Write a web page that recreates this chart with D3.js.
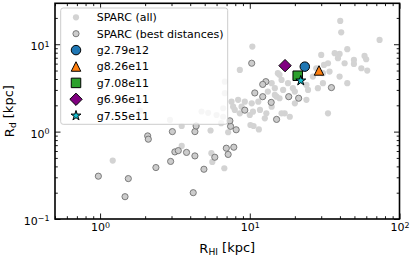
<!DOCTYPE html>
<html>
<head>
<meta charset="utf-8">
<script src="https://cdn.jsdelivr.net/npm/d3@7"></script>
<style>
  body { margin: 0; background: #fff; }
  svg { display: block; font-family: "DejaVu Sans", sans-serif; }
</style>
</head>
<body>
<svg id="chart" width="415" height="257"></svg>
<script>
// SPARC (all): R_HI [kpc], R_d [kpc]
var allRhi = [1.215, 3.51, 3.51, 5.47, 5.54, 5.62, 6.76, 6.44, 7.17, 10.1, 10.6, 11.5, 10.4, 8.58,
  15.4, 16.3, 14.7, 16.7, 19.4, 13.2, 15.8, 11.4, 10.3, 8.36, 7.55, 7.94, 10.5, 11.7, 12.9, 17.1,
  18.5, 12.6, 14.0, 20.0, 23.9, 24.5, 26.4, 28.5, 30.8, 30.8, 34.1, 31.3, 33.3, 30.0, 36.9, 39.8,
  44.8, 38.8, 43.0, 49.6, 49.6, 58.4, 59.9, 55.6, 60.9, 39.8, 44.8, 33.3, 40.2, 40.8, 73.6, 15.1,
  14.0, 15.8, 18.0, 20.0, 23.9, 16.3, 27.8, 7.74, 8.81, 10.0, 8.58, 9.26, 14.7,
  1.85, 2.93, 4.76, 5.27, 6.00, 6.64, 6.64, 6.81, 6.81];
var allRd = [0.466, 0.686, 1.16, 1.03, 0.566, 0.450, 0.381, 1.25, 0.984, 1.19, 1.16, 1.06, 9.39, 5.08,
  4.66, 3.90, 3.14, 3.00, 3.14, 2.87, 2.41, 2.20, 2.11, 2.31, 2.20, 1.77, 1.69, 1.77, 1.62, 1.62,
  1.48, 1.42, 1.93, 2.11, 2.31, 3.00, 4.26, 3.14, 3.58, 4.66, 4.86, 5.80, 6.06, 7.55, 7.89, 7.74,
  8.77, 6.92, 6.06, 6.61, 5.95, 7.35, 6.73, 5.31, 4.99, 4.26, 3.58, 1.62, 18.5, 13.7, 11.2, 2.51,
  3.58, 4.46, 3.58, 2.87, 3.42, 1.62, 5.31, 1.93, 1.93, 1.55, 1.62, 2.20, 2.63,
  1.74, 1.36, 1.70, 1.64, 1.55, 1.48, 1.85, 3.73, 2.75];

// SPARC (best distances)
var bestRhi = [0.974, 1.544, 1.468, 2.08, 2.10, 2.36, 3.04, 2.96, 3.16, 3.33, 3.78, 4.30, 4.30, 4.38,
  4.19, 4.94, 5.84, 6.97, 7.17, 7.82, 7.44, 8.11, 7.36, 15.1, 9.26, 10.3, 12.8, 12.2, 10.8, 12.2,
  13.9, 18.2, 21.2, 35.1];
var bestRd = [0.309, 0.290, 0.180, 0.893, 0.819, 0.388, 1.0, 0.456, 0.586, 0.606, 0.578, 0.527, 1.0, 1.16,
  0.200, 0.371, 0.509, 0.646, 0.548, 0.663, 1.15, 1.05, 1.33, 1.38, 1.76, 6.06, 3.73, 3.47, 2.77, 2.51,
  2.16, 2.51, 2.41, 3.19];

// simulated galaxies
var galNames = ["g2.79e12", "g8.26e11", "g7.08e11", "g6.96e11", "g7.55e11"];
var galRhi = [23.3, 29.0, 20.9, 17.2, 21.9];
var galRd = [5.54, 5.01, 4.36, 5.69, 3.83];
var galColors = ["#1f77b4", "#ff7f0e", "#2ca02c", "#800080", "#17becf"];
var galShapes = ["circle", "triangle", "square", "diamond", "star"];

var xTickMajor = [1, 10, 100];
var yTickMajor = [0.1, 1, 10];

var W = 415, H = 257;
var margin = {left: 55, right: 15.5, top: 3.3, bottom: 38};
var iw = W - margin.left - margin.right;
var ih = H - margin.top - margin.bottom;

var svg = d3.select("#chart");
var g = svg.append("g").attr("transform", "translate(" + margin.left + "," + margin.top + ")");

var x = d3.scaleLog().domain([0.5, 100]).range([0, iw]);
var y = d3.scaleLog().domain([0.1, 29.4]).range([ih, 0]);

// marker paths, size = marker width in px
function markerPath(shape, s) {
    var h = s / 2;
    if (shape === "circle") return d3.symbol(d3.symbolCircle, Math.PI * h * h)();
    if (shape === "triangle") return "M0," + (-h) + "L" + (-h) + "," + h + "L" + h + "," + h + "Z";
    if (shape === "square") return "M" + (-h) + "," + (-h) + "H" + h + "V" + h + "H" + (-h) + "Z";
    if (shape === "diamond") { var d = h * 1.3; return "M0," + (-d) + "L" + d + ",0L0," + d + "L" + (-d) + ",0Z"; }
    // star
    var pts = [];
    for (var i = 0; i < 10; i++) {
        var r = (i % 2 === 0) ? h * 1.1 : h * 1.1 * 0.382;
        var a = -Math.PI / 2 + i * Math.PI / 5;
        pts.push([r * Math.cos(a), r * Math.sin(a)]);
    }
    return "M" + pts.join("L") + "Z";
}

// points
g.selectAll(".all").data(allRhi).enter().append("circle")
    .attr("cx", function(d) { return x(d); })
    .attr("cy", function(d, i) { return y(allRd[i]); })
    .attr("r", 3.1)
    .attr("fill", "#d3d3d3");

g.selectAll(".best").data(bestRhi).enter().append("circle")
    .attr("cx", function(d) { return x(d); })
    .attr("cy", function(d, i) { return y(bestRd[i]); })
    .attr("r", 3.1)
    .attr("fill", "#cccccc")
    .attr("stroke", "#707070")
    .attr("stroke-width", 0.9);

g.selectAll(".gal").data(galNames).enter().append("path")
    .attr("transform", function(d, i) { return "translate(" + x(galRhi[i]) + "," + y(galRd[i]) + ")"; })
    .attr("d", function(d, i) { return markerPath(galShapes[i], 9.5); })
    .attr("fill", function(d, i) { return galColors[i]; })
    .attr("stroke", "#000")
    .attr("stroke-width", 1);

// axes with inward ticks on all four sides
function minors(scale) {
    return scale.ticks().filter(function(v) {
        var l = Math.log10(v);
        return Math.abs(l - Math.round(l)) > 1e-6;
    });
}
function powLabel(sel) {
    sel.selectAll("text").each(function(d) {
        var t = d3.select(this);
        var e = Math.round(Math.log10(d));
        t.text(null);
        t.append("tspan").text("10");
        t.append("tspan").attr("dy", "-0.45em").attr("font-size", "0.72em")
            .text(e < 0 ? "\u2212" + (-e) : e);
    });
}
function styleAxis(sel) {
    sel.select(".domain").remove();
    sel.selectAll("line").attr("stroke", "#000").attr("stroke-width", 0.9);
    sel.selectAll("text").attr("fill", "#000").attr("font-size", 11).attr("font-family", "DejaVu Sans");
}

var axes = [
    {gen: d3.axisBottom, sc: x, tr: "translate(0," + ih + ")", lab: true},
    {gen: d3.axisTop, sc: x, tr: "translate(0,0)", lab: false},
    {gen: d3.axisLeft, sc: y, tr: "translate(0,0)", lab: true},
    {gen: d3.axisRight, sc: y, tr: "translate(" + iw + ",0)", lab: false}
];
axes.forEach(function(a) {
    var maj = a.sc === x ? xTickMajor : yTickMajor;
    g.append("g").attr("transform", a.tr)
        .call(a.gen(a.sc).tickValues(minors(a.sc)).tickSize(-2.8).tickFormat(""))
        .call(styleAxis);
    var ga = g.append("g").attr("transform", a.tr)
        .call(a.gen(a.sc).tickValues(maj).tickSize(-5.5).tickPadding(a.sc === x ? 4.5 : 5.5))
        .call(styleAxis);
    if (a.lab) {
        ga.call(powLabel);
        if (a.sc === y) ga.selectAll("text").attr("dy", "0.5em");
    } else {
        ga.selectAll("text").remove();
    }
});

g.append("rect").attr("width", iw).attr("height", ih)
    .attr("fill", "none").attr("stroke", "#000").attr("stroke-width", 1.6);

// axis labels
var xl = svg.append("text").attr("x", margin.left + iw / 2).attr("y", 252.5)
    .attr("text-anchor", "middle").attr("font-size", 13);
xl.append("tspan").text("R");
xl.append("tspan").attr("font-size", "0.7em").attr("dy", "0.25em").text("HI");
xl.append("tspan").attr("dy", "-0.18em").text(" [kpc]");

var yl = svg.append("text").attr("transform", "translate(13.5," + (margin.top + ih / 2) + ") rotate(-90)")
    .attr("text-anchor", "middle").attr("font-size", 13);
yl.append("tspan").text("R");
yl.append("tspan").attr("font-size", "0.7em").attr("dy", "0.25em").text("d");
yl.append("tspan").attr("dy", "-0.18em").text(" [kpc]");

// legend
var leg = svg.append("g");
leg.append("rect").attr("x", 60.7).attr("y", 8).attr("width", 167).attr("height", 116.3)
    .attr("rx", 2.5).attr("fill", "#fff").attr("fill-opacity", 0.8)
    .attr("stroke", "#cccccc").attr("stroke-width", 1);

var legLabels = ["SPARC (all)", "SPARC (best distances)"].concat(galNames);
var row0 = 17.3, rowStep = 16.4;
legLabels.forEach(function(lab, i) {
    var cy = row0 + i * rowStep;
    if (i === 0) {
        leg.append("circle").attr("cx", 76).attr("cy", cy).attr("r", 3.1).attr("fill", "#d3d3d3");
    } else if (i === 1) {
        leg.append("circle").attr("cx", 76).attr("cy", cy).attr("r", 3.1)
            .attr("fill", "#cccccc").attr("stroke", "#707070").attr("stroke-width", 0.9);
    } else {
        leg.append("path").attr("transform", "translate(76," + cy + ")")
            .attr("d", markerPath(galShapes[i - 2], 9.5))
            .attr("fill", galColors[i - 2]).attr("stroke", "#000").attr("stroke-width", 1);
    }
    leg.append("text").attr("x", 96.7).attr("y", cy).attr("dy", "0.36em")
        .attr("font-size", 11).attr("fill", "#000").text(lab);
});
</script>
</body>
</html>
